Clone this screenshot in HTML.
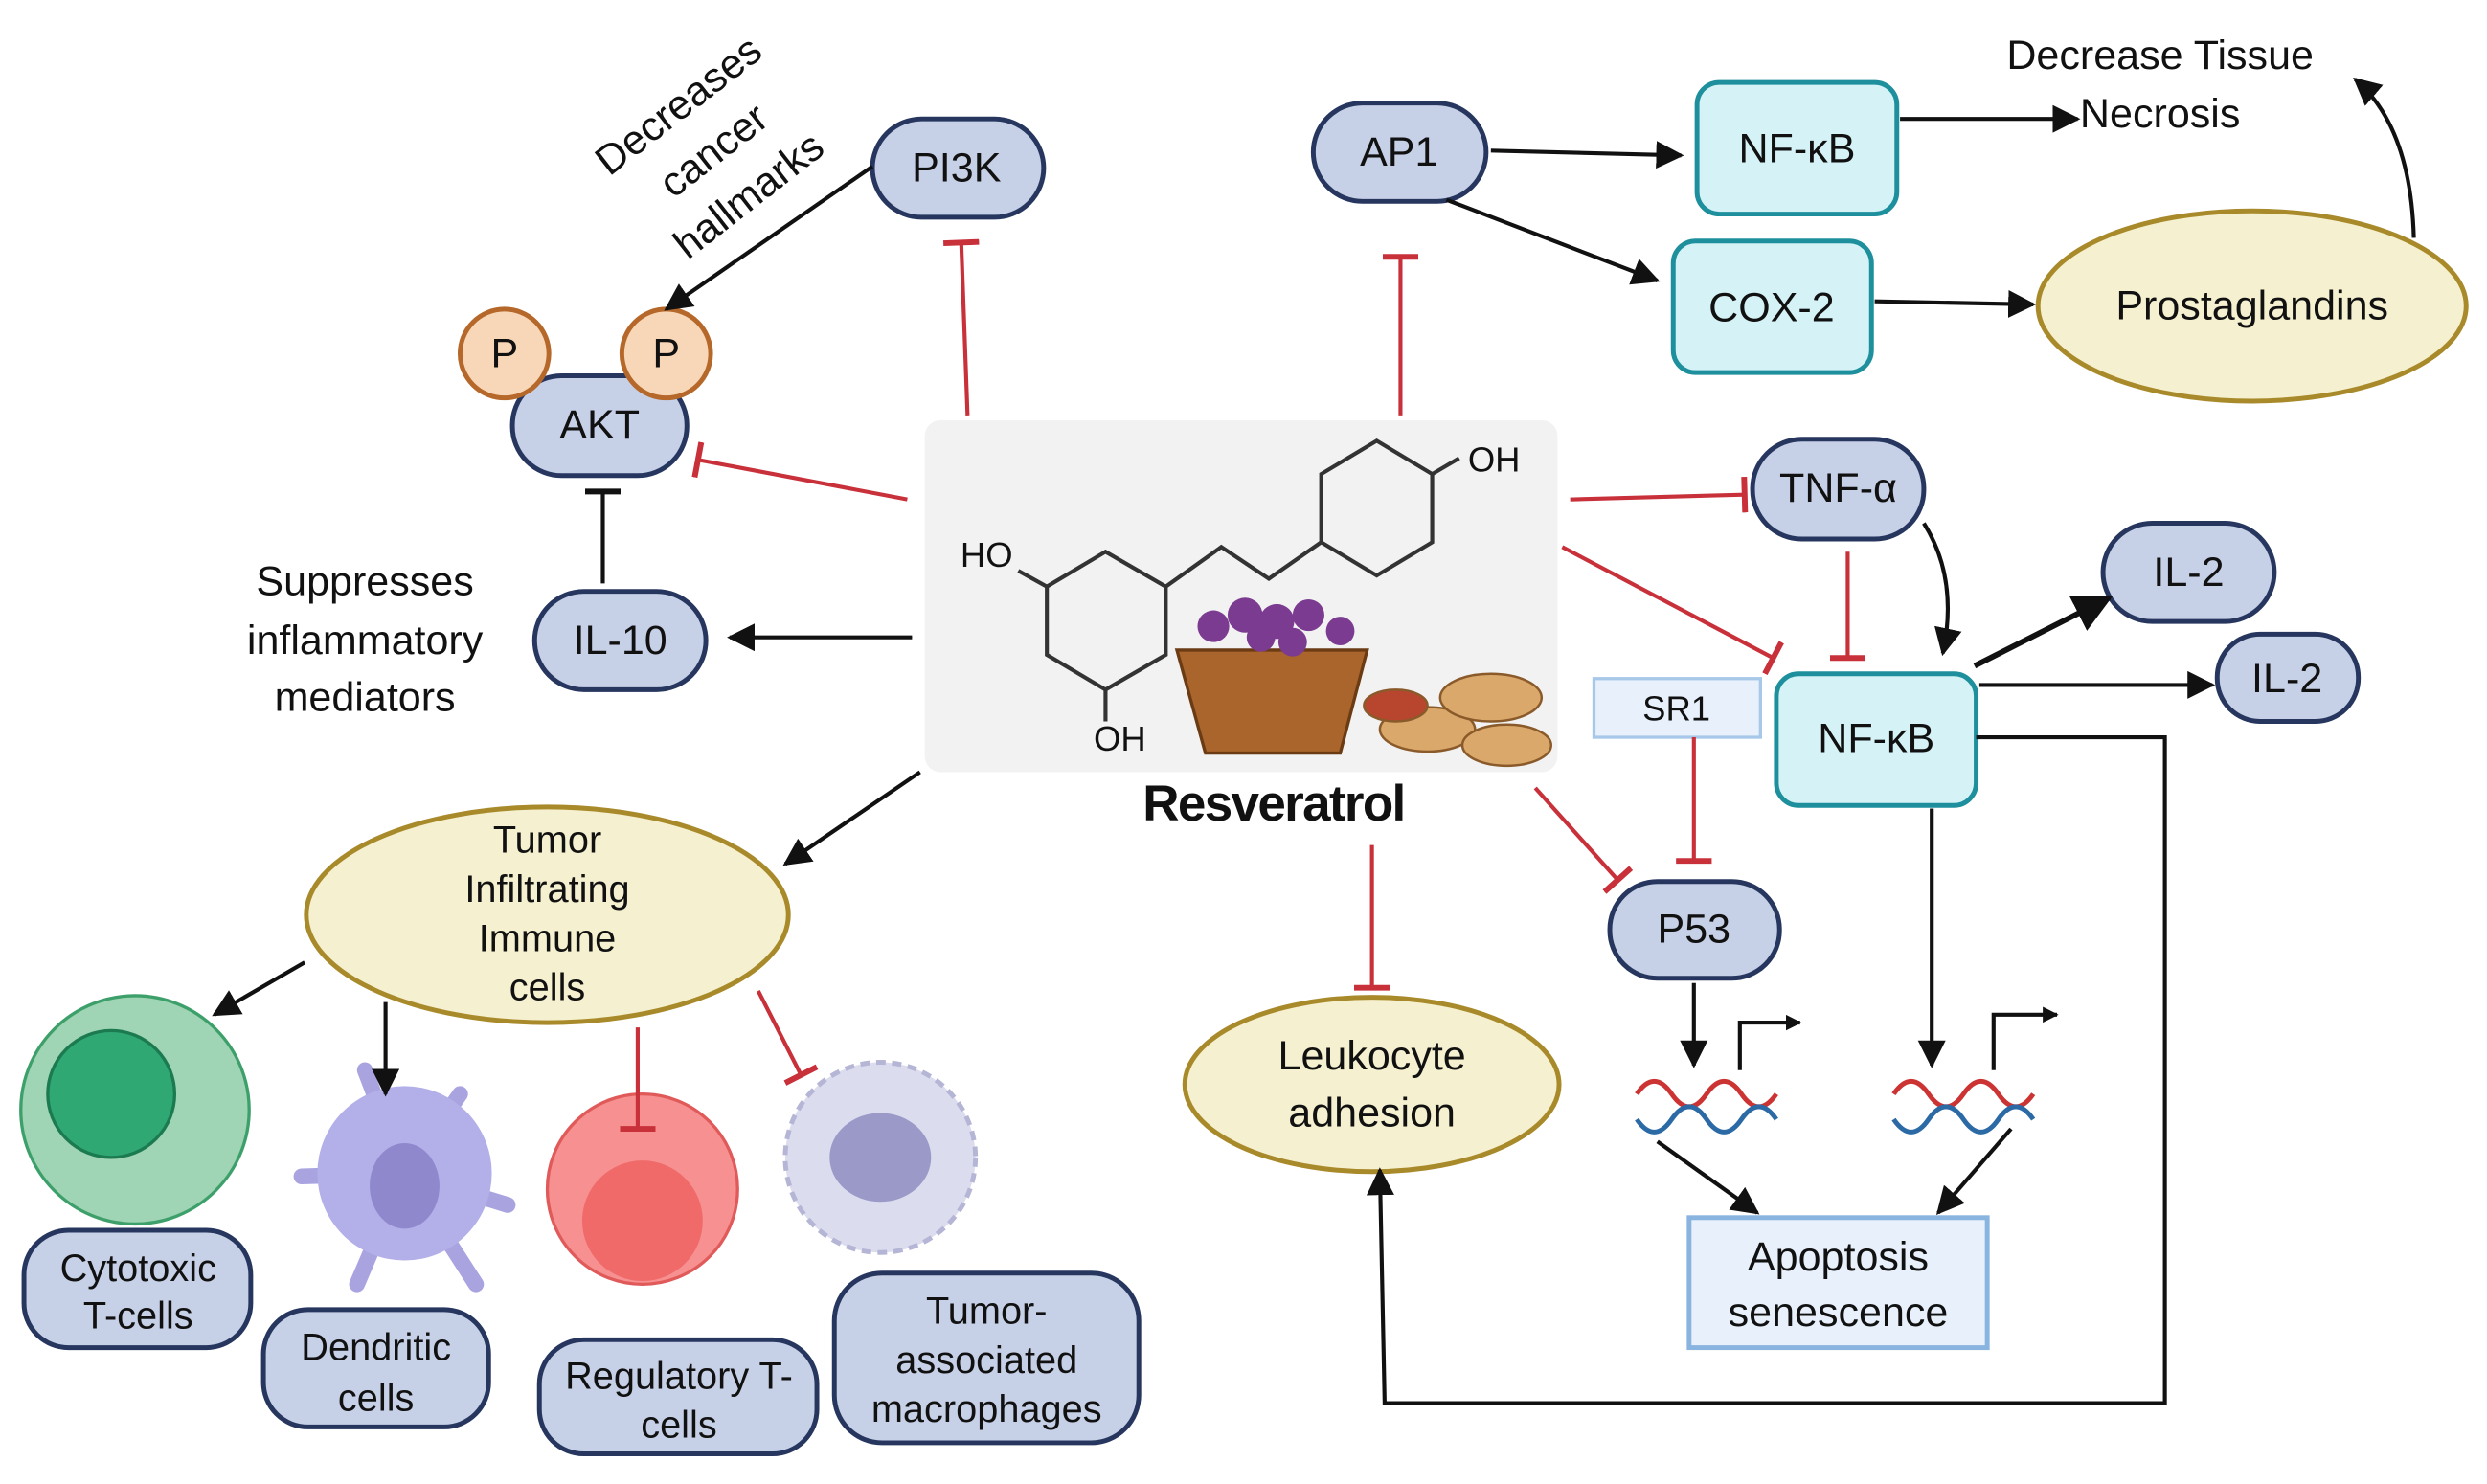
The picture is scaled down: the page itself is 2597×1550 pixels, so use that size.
<!DOCTYPE html>
<html><head><meta charset="utf-8"><style>html,body{margin:0;padding:0;background:#fff}svg{display:block}text{font-family:"Liberation Sans",sans-serif;fill:#111}</style></head><body>
<svg width="2597" height="1550" viewBox="0 0 1568 936" xmlns="http://www.w3.org/2000/svg">
<defs>
<marker id="a" viewBox="0 0 10 10" refX="9" refY="5" markerWidth="7" markerHeight="7" orient="auto-start-reverse"><path d="M0,0L10,5L0,10z" fill="#111"/></marker>
<marker id="a2" viewBox="0 0 10 10" refX="9" refY="5" markerWidth="4" markerHeight="4" orient="auto"><path d="M0,0L10,5L0,10z" fill="#111"/></marker>
<marker id="t" viewBox="0 0 10 10" refX="5" refY="5" markerWidth="9" markerHeight="9" orient="auto"><path d="M5,0L5,10" stroke="#c8303a" stroke-width="1.6"/></marker>
<marker id="tb" viewBox="0 0 10 10" refX="5" refY="5" markerWidth="9" markerHeight="9" orient="auto"><path d="M5,0L5,10" stroke="#111" stroke-width="1.6"/></marker>
</defs>
<g font-size="26" text-anchor="middle" dominant-baseline="central">
<!-- pills -->
<g fill="#c6d0e6" stroke="#26365e" stroke-width="3">
<rect x="550" y="75" width="108" height="62" rx="31"/>
<rect x="828" y="65" width="109" height="62" rx="31"/>
<rect x="323" y="237" width="110" height="63" rx="31"/>
<rect x="337" y="373" width="108" height="62" rx="31"/>
<rect x="1105" y="277" width="108" height="63" rx="31"/>
<rect x="1326" y="330" width="108" height="62" rx="31"/>
<rect x="1398" y="400" width="89" height="55" rx="27"/>
<rect x="1015" y="556" width="107" height="61" rx="30"/>
<rect x="15" y="776" width="143" height="74" rx="28"/>
<rect x="166" y="826" width="142" height="74" rx="28"/>
<rect x="340" y="845" width="175" height="72" rx="28"/>
<rect x="526" y="803" width="192" height="107" rx="30"/>
</g>
<g fill="#d5f3f7" stroke="#1e8f9c" stroke-width="3">
<rect x="1070" y="52" width="126" height="83" rx="14"/>
<rect x="1055" y="152" width="125" height="83" rx="14"/>
<rect x="1120" y="425" width="126" height="83" rx="14"/>
</g>
<g fill="#f5f0cf" stroke="#a88a2a" stroke-width="3">
<ellipse cx="1420" cy="193" rx="135" ry="60"/>
<ellipse cx="865" cy="684" rx="118" ry="55"/>
<ellipse cx="345" cy="577" rx="152" ry="68"/>
</g>
<rect x="1005" y="428" width="105" height="37" fill="#e8f1fb" stroke="#a8c8ea" stroke-width="2"/>
<rect x="1065" y="768" width="188" height="82" fill="#e8f1fb" stroke="#8ab4e0" stroke-width="3"/>
<circle cx="318" cy="223" r="28" fill="#f8d7b8" stroke="#b5682a" stroke-width="3"/>
<circle cx="420" cy="223" r="28" fill="#f8d7b8" stroke="#b5682a" stroke-width="3"/>
<!-- center image -->
<rect x="583" y="265" width="399" height="222" rx="10" fill="#f2f2f2"/>
<g stroke="#333" stroke-width="2.5" fill="none">
<path d="M660,370 L697,348 L735,370 L735,413 L697,435 L660,413 Z"/>
<path d="M735,370 L770,345 L800,365 L833,342"/>
<path d="M833,342 L833,299 L868,278 L903,299 L903,342 L868,363 Z"/>
<path d="M660,370 L642,360 M697,435 L697,455 M903,299 L920,289"/>
</g>
<text x="622" y="350" font-size="22">HO</text><text x="706" y="466" font-size="22">OH</text><text x="942" y="290" font-size="22">OH</text>
<path d="M742,410 L862,410 L845,475 L760,475 Z" fill="#a9652b" stroke="#6b3b14" stroke-width="2"/>
<g fill="#7b3b91"><circle cx="765" cy="395" r="10"/><circle cx="785" cy="388" r="11"/><circle cx="805" cy="392" r="11"/><circle cx="825" cy="388" r="10"/><circle cx="845" cy="398" r="9"/><circle cx="795" cy="402" r="9"/><circle cx="815" cy="405" r="9"/></g>
<g fill="#d9a86a" stroke="#8a5a2a" stroke-width="1.5"><ellipse cx="900" cy="460" rx="30" ry="14"/><ellipse cx="940" cy="440" rx="32" ry="15"/><ellipse cx="950" cy="470" rx="28" ry="13"/><ellipse cx="880" cy="445" rx="20" ry="10" fill="#b8462e"/></g>
<text x="803" y="507" font-size="32" font-weight="bold" letter-spacing="-1">Resveratrol</text>
<!-- cells -->
<circle cx="85" cy="700" r="72" fill="#9fd4b4" stroke="#3da06a" stroke-width="2"/><circle cx="70" cy="690" r="40" fill="#2fa874" stroke="#1c7a50" stroke-width="2"/>
<g stroke="#a9a4e0" stroke-width="10" stroke-linecap="round"><path d="M255,740 L190,742 M255,740 L230,675 M255,740 L290,690 M255,740 L320,760 M255,740 L300,810 M255,740 L225,810"/></g>
<ellipse cx="255" cy="740" rx="55" ry="55" fill="#b3afe8"/><ellipse cx="255" cy="748" rx="22" ry="27" fill="#8f88cc"/>
<circle cx="405" cy="750" r="60" fill="#f79090" stroke="#e05a5a" stroke-width="2"/><circle cx="405" cy="770" r="38" fill="#f06a6a"/>
<circle cx="555" cy="730" r="60" fill="#dcdcef" stroke="#b5b5d5" stroke-width="3" stroke-dasharray="6 4"/><ellipse cx="555" cy="730" rx="32" ry="28" fill="#9b99c8"/>
<!-- DNA -->
<g fill="none" stroke-width="3"><path d="M1032,690 q11,-16 22,0 t22,0 t22,0 t22,0" stroke="#c33"/><path d="M1032,706 q11,16 22,0 t22,0 t22,0 t22,0" stroke="#2c6aa6"/>
<path d="M1194,690 q11,-16 22,0 t22,0 t22,0 t22,0" stroke="#c33"/><path d="M1194,706 q11,16 22,0 t22,0 t22,0 t22,0" stroke="#2c6aa6"/></g>
<g stroke="#111" stroke-width="2.5" fill="none" marker-end="url(#a2)"><path d="M1097,675 L1097,645 L1135,645"/><path d="M1257,675 L1257,640 L1297,640"/></g>
<!-- text labels -->
<text x="603" y="106">PI3K</text><text x="882" y="96">AP1</text><text x="1133" y="94">NF-κB</text><text x="1117" y="194">COX-2</text>
<text x="1420" y="193">Prostaglandins</text><text x="1362" y="35">Decrease Tissue</text><text x="1362" y="72">Necrosis</text>
<text x="318" y="223">P</text><text x="420" y="223">P</text><text x="378" y="268">AKT</text><text x="391" y="404">IL-10</text>
<text x="230" y="367">Suppresses</text><text x="230" y="404">inflammatory</text><text x="230" y="440">mediators</text>
<g transform="translate(450,95) rotate(-38)"><text x="0" y="-36">Decreases</text><text x="0" y="0">cancer</text><text x="0" y="36">hallmarks</text></g>
<text x="1159" y="308">TNF-α</text><text x="1380" y="361">IL-2</text><text x="1442" y="428">IL-2</text><text x="1183" y="466">NF-κB</text>
<text x="1057" y="447" font-size="22">SR1</text><text x="1068" y="586">P53</text>
<text x="865" y="666">Leukocyte</text><text x="865" y="702">adhesion</text>
<text x="1159" y="793">Apoptosis</text><text x="1159" y="828">senescence</text>
<text x="345" y="530" font-size="24">Tumor</text><text x="345" y="561" font-size="24">Infiltrating</text><text x="345" y="592" font-size="24">Immune</text><text x="345" y="623" font-size="24">cells</text>
<text x="87" y="800" font-size="24">Cytotoxic</text><text x="87" y="830" font-size="24">T-cells</text>
<text x="237" y="850" font-size="24">Dendritic</text><text x="237" y="882" font-size="24">cells</text>
<text x="428" y="868" font-size="24">Regulatory T-</text><text x="428" y="899" font-size="24">cells</text>
<text x="622" y="827" font-size="24">Tumor-</text><text x="622" y="858" font-size="24">associated</text><text x="622" y="889" font-size="24">macrophages</text>
</g>
<!-- black arrows -->
<g stroke="#111" stroke-width="2.5" fill="none" marker-end="url(#a)">
<path d="M550,105 L420,195"/><path d="M575,402 L460,402"/>
<path d="M940,95 L1060,98"/><path d="M912,126 L1045,177"/><path d="M1198,75 L1310,75"/><path d="M1182,190 L1282,192"/>
<path d="M1522,150 Q1520,80 1485,50"/><path d="M1213,330 Q1235,365 1225,412"/>
<path d="M1245,420 L1330,377" stroke-width="3.5"/><path d="M1248,432 L1395,432"/>
<path d="M1218,510 L1218,672"/><path d="M1068,620 L1068,672"/>
<path d="M1246,465 L1365,465 L1365,885 L873,885 L870,738"/>
<path d="M1045,720 L1108,765"/><path d="M1268,712 L1222,765"/>
<path d="M580,487 L495,545"/><path d="M192,607 L135,640"/><path d="M243,632 L243,690"/>
</g>
<path d="M380,368 L380,310" stroke="#111" stroke-width="2.5" marker-end="url(#tb)"/>
<!-- red inhibitions -->
<g stroke="#c8303a" stroke-width="2.5" fill="none" marker-end="url(#t)">
<path d="M610,262 L606,153"/><path d="M883,262 L883,162"/><path d="M572,315 L440,290"/>
<path d="M990,315 L1100,312"/><path d="M985,345 L1118,415"/><path d="M1165,348 L1165,415"/>
<path d="M1068,465 L1068,543"/><path d="M968,497 L1020,555"/><path d="M865,533 L865,623"/>
<path d="M402,648 L402,712"/><path d="M478,625 L505,678"/>
</g>
</svg>
</body></html>
